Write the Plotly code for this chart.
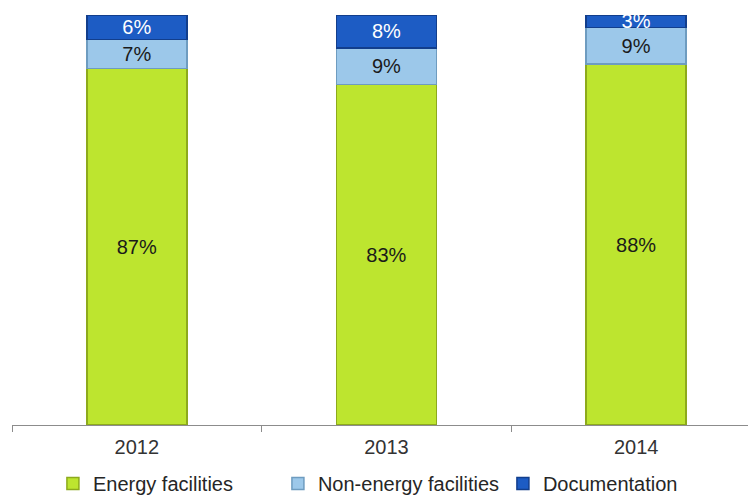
import plotly.graph_objects as go

years = ["2012", "2013", "2014"]
energy = [87, 83, 88]
non_energy = [7, 9, 9]
documentation = [6, 8, 3]

series = [
    ("Energy facilities", energy, "#BDE52F", "#8DAA1C", "#1a1a1a"),
    ("Non-energy facilities", non_energy, "#9CC8EA", "#6E9CC0", "#1a1a1a"),
    ("Documentation", documentation, "#1D5CC4", "#123E8C", "#FFFFFF"),
]

FONT = "Liberation Sans, Arial, sans-serif"

fig = go.Figure()
for name, vals, color, line, tcolor in series:
    fig.add_trace(go.Bar(
        x=years, y=vals, name=name,
        marker=dict(color=color, line=dict(color=line, width=1.5)),
        text=[f"{v}%" for v in vals],
        textposition="inside",
        insidetextanchor="middle",
        textfont=dict(color=tcolor, size=20, family=FONT),
        width=0.4,
    ))

# page body has an 8px margin; figure sized to fit the 756x495 window
fig.update_layout(
    barmode="stack",
    width=748, height=487,
    margin=dict(l=4, r=0, t=7, b=70, autoexpand=False),
    paper_bgcolor="white", plot_bgcolor="white",
    font=dict(family=FONT, size=20, color="#333333"),
    uniformtext=dict(minsize=20, mode="show"),
    showlegend=True,
    legend=dict(orientation="h", x=0.055, xanchor="left", y=-0.095, yanchor="top",
                font=dict(size=20, color="#262626"), itemwidth=30, traceorder="normal",
                entrywidth=180),
    xaxis=dict(
        type="category", range=[-0.5, 2.48],
        showline=True, linecolor="#8C8C8C", linewidth=1,
        ticks="outside", tickson="boundaries", ticklen=6, tickcolor="#8C8C8C",
        tickfont=dict(size=20, color="#333333"), ticklabelstandoff=4,
        showgrid=False,
    ),
    yaxis=dict(range=[0, 100], visible=False, showgrid=False, zeroline=False),
    bargap=0.6,
)

fig.write_html("out.html")
